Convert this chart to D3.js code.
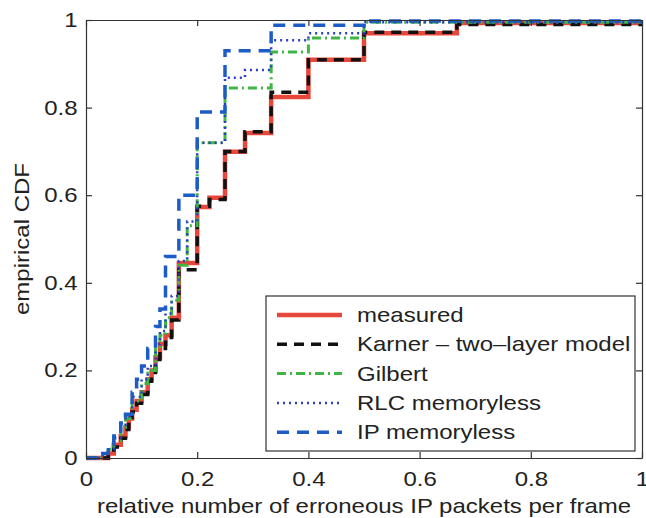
<!DOCTYPE html>
<html>
<head>
<meta charset="utf-8">
<script src="https://cdn.jsdelivr.net/npm/d3@7"></script>
<style>
  body { margin: 0; background: #fff; }
  text { font-family: "Liberation Sans", Arial, sans-serif; fill: #222; }
</style>
</head>
<body>
<svg id="chart" width="646" height="518"></svg>
<script>
// step positions (x where the CDF jumps) and value after the jump
const measuredX = [0.04, 0.05, 0.0625, 0.071, 0.077, 0.083, 0.091, 0.1, 0.111, 0.118, 0.125, 0.133, 0.143, 0.154, 0.167, 0.2, 0.222, 0.25, 0.286, 0.333, 0.4, 0.5, 0.667, 1];
const measuredY = [0.01, 0.03, 0.05, 0.07, 0.09, 0.11, 0.13, 0.15, 0.18, 0.2, 0.23, 0.26, 0.28, 0.32, 0.445, 0.573, 0.594, 0.699, 0.742, 0.824, 0.909, 0.97, 0.993, 1];

const karnerX = [0.04, 0.05, 0.0625, 0.071, 0.077, 0.083, 0.091, 0.1, 0.111, 0.118, 0.125, 0.133, 0.143, 0.154, 0.167, 0.2, 0.222, 0.25, 0.286, 0.333, 0.4, 0.5, 0.667, 1];
const karnerY = [0.01, 0.025, 0.045, 0.065, 0.085, 0.105, 0.125, 0.145, 0.175, 0.195, 0.225, 0.25, 0.275, 0.315, 0.43, 0.575, 0.59, 0.7, 0.745, 0.835, 0.909, 0.972, 0.99, 1];

const gilbertX = [0.03, 0.04, 0.05, 0.0625, 0.071, 0.083, 0.1, 0.111, 0.125, 0.133, 0.143, 0.154, 0.167, 0.182, 0.2, 0.25, 0.333, 0.4, 0.5, 1];
const gilbertY = [0.01, 0.02, 0.04, 0.07, 0.09, 0.13, 0.17, 0.2, 0.25, 0.28, 0.32, 0.36, 0.44, 0.53, 0.72, 0.845, 0.927, 0.959, 0.995, 1];

const rlcX = [0.03, 0.04, 0.05, 0.0625, 0.071, 0.083, 0.1, 0.111, 0.125, 0.133, 0.143, 0.154, 0.167, 0.182, 0.2, 0.25, 0.286, 0.333, 0.4, 0.5, 1];
const rlcY = [0.01, 0.02, 0.045, 0.075, 0.095, 0.14, 0.18, 0.21, 0.26, 0.29, 0.33, 0.37, 0.45, 0.54, 0.72, 0.868, 0.886, 0.954, 0.97, 0.995, 1];

const ipX = [0.03, 0.04, 0.05, 0.0625, 0.071, 0.083, 0.091, 0.1, 0.111, 0.125, 0.133, 0.143, 0.167, 0.2, 0.25, 0.333, 0.5, 1];
const ipY = [0.01, 0.03, 0.05, 0.08, 0.1, 0.15, 0.18, 0.21, 0.25, 0.3, 0.34, 0.46, 0.6, 0.79, 0.93, 0.988, 0.998, 1];

const xTicks = [0, 0.2, 0.4, 0.6, 0.8, 1];
const yTicks = [0, 0.2, 0.4, 0.6, 0.8, 1];
const seriesNames = ["measured", "Karner \u2013 two\u2013layer model", "Gilbert", "RLC memoryless", "IP memoryless"];

const width = 646, height = 518;
const margin = { top: 20, right: 4, bottom: 60, left: 86 };
const stretch = 'scale(1.2,1)'; // the original font is set wide

const svg = d3.select('#chart');

const x = d3.scaleLinear().domain([0, 1]).range([margin.left, width - margin.right]);
const y = d3.scaleLinear().domain([0, 1]).range([height - margin.bottom, margin.top]);

const styles = [
  { color: '#e8473b', w: 4.5, dash: null },
  { color: '#111111', w: 3.5, dash: '10,7' },
  { color: '#3fb544', w: 3, dash: '9,4,2,4' },
  { color: '#2b3fc4', w: 2.5, dash: '2,4' },
  { color: '#1d5cc4', w: 3.5, dash: '12,8' }
];

const series = [
  [measuredX, measuredY],
  [karnerX, karnerY],
  [gilbertX, gilbertY],
  [rlcX, rlcY],
  [ipX, ipY]
].map(([xs, ys]) => [[0, 0]].concat(xs.map((v, i) => [v, ys[i]])));

const line = d3.line()
  .x(d => x(d[0]))
  .y(d => y(d[1]))
  .curve(d3.curveStepAfter);

// clip so the curves stay inside the frame
svg.append('clipPath').attr('id', 'clip')
  .append('rect')
  .attr('x', margin.left).attr('y', margin.top - 3)
  .attr('width', width - margin.left - margin.right)
  .attr('height', height - margin.top - margin.bottom + 6);

svg.append('g').attr('clip-path', 'url(#clip)')
  .selectAll('path')
  .data(series)
  .enter().append('path')
  .attr('d', line)
  .attr('fill', 'none')
  .attr('stroke', (d, i) => styles[i].color)
  .attr('stroke-width', (d, i) => styles[i].w)
  .attr('stroke-dasharray', (d, i) => styles[i].dash);

// axes (ticks point inwards)
const fmt = d3.format('~g');
const gx = svg.append('g')
  .attr('transform', `translate(0,${height - margin.bottom})`)
  .call(d3.axisBottom(x).tickValues(xTicks).tickFormat(fmt).tickSizeInner(-6).tickSizeOuter(0).tickPadding(14));
const gy = svg.append('g')
  .attr('transform', `translate(${margin.left},0)`)
  .call(d3.axisLeft(y).tickValues(yTicks).tickFormat(fmt).tickSizeInner(-6).tickSizeOuter(0).tickPadding(7));
svg.append('g')
  .attr('transform', `translate(0,${margin.top})`)
  .call(d3.axisTop(x).tickValues(xTicks).tickFormat('').tickSizeInner(-6).tickSizeOuter(0));
svg.append('g')
  .attr('transform', `translate(${width - margin.right},0)`)
  .call(d3.axisRight(y).tickValues(yTicks).tickFormat('').tickSizeInner(-6).tickSizeOuter(0));

svg.selectAll('.domain, .tick line').attr('stroke', '#333').attr('stroke-width', 1.2);
svg.selectAll('.tick text').style('font-size', '20px').attr('fill', '#222').attr('transform', stretch);

svg.append('text')
  .attr('transform', `translate(${(margin.left + width - margin.right) / 2},513) ${stretch}`)
  .attr('text-anchor', 'middle')
  .style('font-size', '20px')
  .text('relative number of erroneous IP packets per frame');

svg.append('text')
  .attr('transform', `translate(29,${(margin.top + height - margin.bottom) / 2}) rotate(-90) ${stretch}`)
  .attr('text-anchor', 'middle')
  .style('font-size', '20px')
  .text('empirical CDF');

// legend
const lg = svg.append('g');
lg.append('rect')
  .attr('x', 266).attr('y', 296)
  .attr('width', 369).attr('height', 155)
  .attr('fill', '#fff').attr('stroke', '#333').attr('stroke-width', 1.2);

const row = lg.selectAll('.row')
  .data(seriesNames)
  .enter().append('g')
  .attr('class', 'row')
  .attr('transform', (d, i) => `translate(0,${315 + i * 29.3})`);

row.append('line')
  .attr('x1', 277).attr('x2', 342)
  .attr('stroke', (d, i) => styles[i].color)
  .attr('stroke-width', (d, i) => styles[i].w)
  .attr('stroke-dasharray', (d, i) => styles[i].dash);

row.append('text')
  .attr('transform', `translate(357,7) ${stretch}`)
  .style('font-size', '20px')
  .text(d => d);
</script>
</body>
</html>
